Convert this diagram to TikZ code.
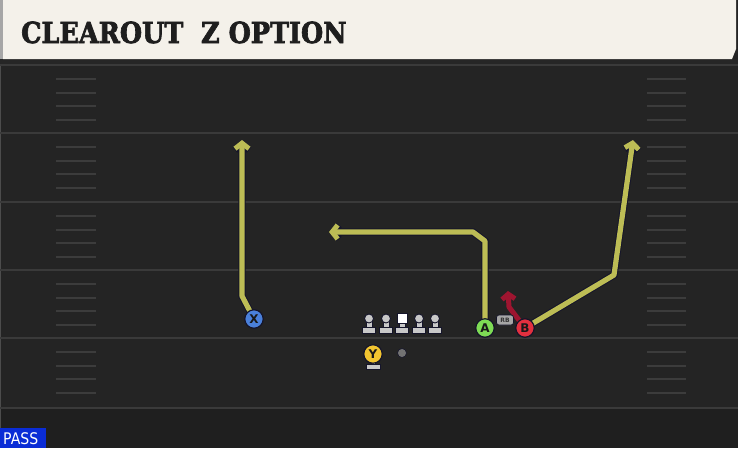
\documentclass[tikz,border=0pt]{standalone}
\usepackage{fontspec}
\setmainfont{DejaVu Sans}
\newfontfamily\titlefont{DejaVu Serif}[FakeBold=2.5]
\usetikzlibrary{arrows.meta}
\definecolor{fieldbg}{HTML}{242424}
\definecolor{bottombg}{HTML}{1F1F1F}
\definecolor{yardline}{HTML}{3A3A3A}
\definecolor{hashc}{HTML}{3C3C3C}
\definecolor{headerc}{HTML}{F4F1EA}
\definecolor{routey}{HTML}{BDBD55}
\definecolor{outl}{HTML}{15152A}
\definecolor{xblue}{HTML}{4A80DA}
\definecolor{agreen}{HTML}{7EDB55}
\definecolor{bred}{HTML}{E2303F}
\definecolor{yyellow}{HTML}{F2C530}
\definecolor{redroute}{HTML}{9E1530}
\definecolor{lgray}{HTML}{C8C8C8}
\definecolor{passblue}{HTML}{0A2CD6}
\definecolor{titlec}{HTML}{1E1E1E}
\pgfdeclarelayer{field}
\pgfdeclarelayer{routes}
\pgfsetlayers{field,routes,main}
\tikzset{
  player/.style={circle, draw=outl, line width=1.2pt, minimum size=18.5pt, inner sep=0pt,
     font=\fontsize{12}{12}\selectfont\bfseries, text=black!90},
  route/.style={line width=5.2pt, draw=routey, line join=round,
     -{Straight Barb[length=5.5pt,width=14pt,line width=5pt]},
     preaction={draw=outl, line width=7.2pt, -{Straight Barb[length=5.5pt,width=14pt,line width=7pt]}}},
  redrt/.style={line width=5pt, draw=redroute, line join=round,
     -{Straight Barb[length=5pt,width=13pt,line width=5pt]}},
  yline/.style={draw=yardline, line width=2.6pt},
  hashm/.style={draw=hashc, line width=2.4pt},
  gray part/.style={fill=lgray, draw=outl, line width=0.9pt},
}
\begin{document}
\begin{tikzpicture}[x=1pt,y=-1pt]
\useasboundingbox (0,0) rectangle (738,448);
\begin{pgfonlayer}{field}
  \fill[fieldbg] (0,0) rectangle (738,448);
  \fill[bottombg] (0,409) rectangle (738,448);
  \fill[black!85] (0,59) rectangle (738,64);
  \draw[draw=black!70, line width=1pt] (0.5,64) -- (0.5,448);
  \foreach \L in {65,133,202,270,338,408} {
    \draw[yline] (0,\L) -- (738,\L);
  }
  \foreach \L in {65,133,202,270,338} {
    \foreach \o in {14,28,41,55} {
      \draw[hashm] (56,\L+\o) -- (96,\L+\o);
      \draw[hashm] (647,\L+\o) -- (686,\L+\o);
    }
  }
  % header
  \fill[headerc] (3,0) -- (736,0) -- (736,49) -- (732,59) -- (3,59) -- cycle;
  \fill[black!35] (0,0) rectangle (3,59);
  \node[anchor=base west, inner sep=0pt, xscale=0.88, text=titlec] (title) at (21,43)
     {\titlefont\fontsize{29}{29}\selectfont\bfseries CLEAROUT\ \ Z OPTION};
  % pass label
  \fill[passblue] (0,428) rectangle (46,448);
  \node[anchor=base west, inner sep=0pt, text=white, xscale=0.88] (pass) at (3,444)
     {\fontsize{16}{16}\selectfont PASS};
\end{pgfonlayer}

% players
\node[player, fill=xblue] (X) at (254,319) {X};
\node[player, fill=agreen] (A) at (485,328) {A};
\node[player, fill=bred] (B) at (525,328) {B};
\fill[gray part] (371,360) rectangle (375,366);
\fill[gray part] (366,364) rectangle (380,369);
\node[player, fill=yyellow] (Y) at (373,354) {Y};
\node[circle, fill=black!55, draw=outl, line width=0.6pt, minimum size=9pt, inner sep=0pt] (ball) at (402,353) {};
\node[rounded corners=2.5pt, fill=black!35, draw=outl, line width=0.7pt, minimum width=17pt, minimum height=10pt, inner sep=0pt,
   font=\fontsize{6}{6}\selectfont\bfseries, text=black!80] (RB) at (505,320) {RB};

% linemen
\foreach \x/\n in {369/LT,386/LG,419/RG,435/RT} {
  \fill[gray part] (\x-3,319) rectangle (\x+3,329);
  \fill[gray part] (\x-6.5,327) rectangle (\x+6.5,333);
  \node[circle, gray part, minimum size=9pt, inner sep=0pt] (\n) at (\x,318.5) {};
}
\fill[gray part] (399,320) rectangle (405,329);
\fill[gray part] (395.5,327) rectangle (408.5,333);
\node[fill=white, draw=outl, line width=0.9pt, minimum size=10pt, inner sep=0pt] (C) at (402,318) {};

\begin{pgfonlayer}{routes}
  \coordinate (xt) at (242,140);
  \coordinate (at) at (329,232);
  \coordinate (bt) at (633,140);
  \coordinate (rt) at (508,291);
  \draw[route] (X.center) -- (242,296) -- (xt);
  \draw[route] (A.center) -- (485,241) -- (473,232) -- (at);
  \draw[route] (B.center) -- (614,275) -- (bt);
  \draw[redrt] (B.center) -- (509,307) -- (rt);
\end{pgfonlayer}
\end{tikzpicture}
\end{document}
